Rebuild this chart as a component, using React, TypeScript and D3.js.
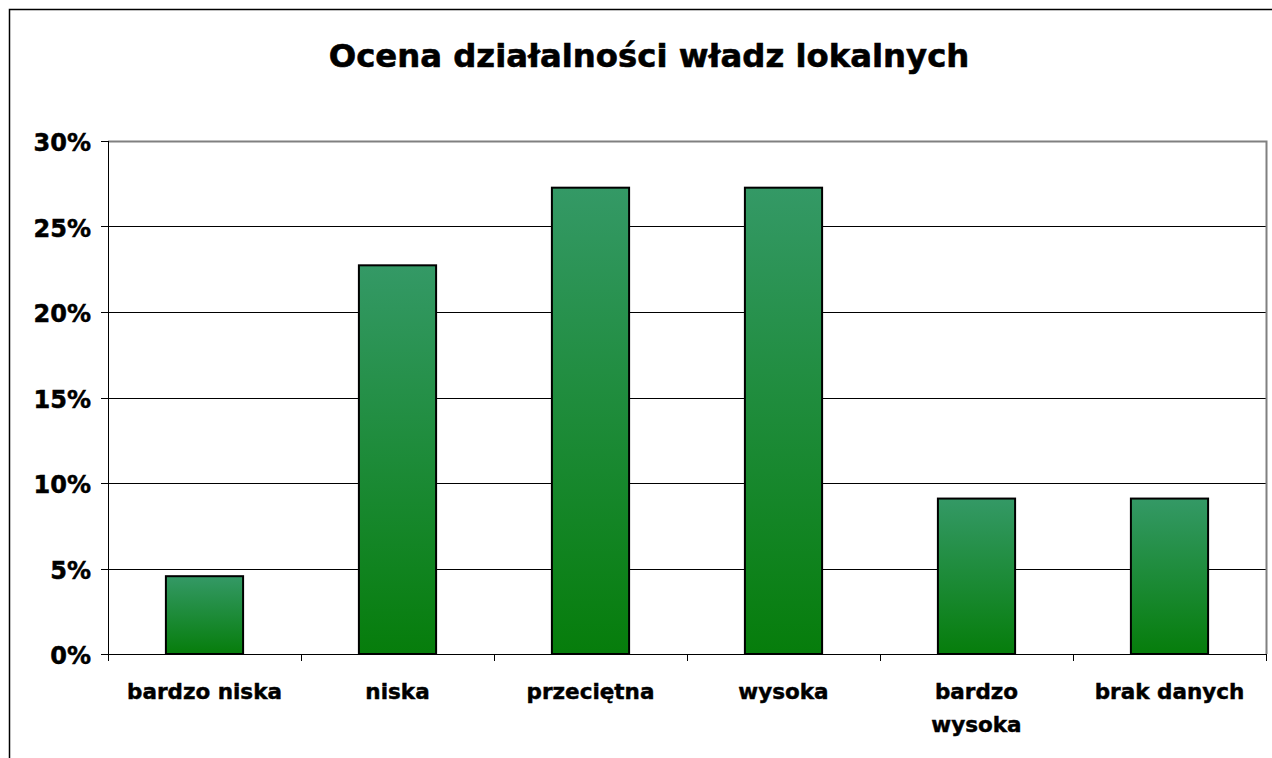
import React, { useEffect, useRef } from "react";
import * as d3 from "d3";

const categories: string[][] = [
  ["bardzo niska"],
  ["niska"],
  ["przeciętna"],
  ["wysoka"],
  ["bardzo", "wysoka"],
  ["brak danych"],
];
const values: number[] = [0.0455, 0.2273, 0.2727, 0.2727, 0.0909, 0.0909];
const yTicks: number[] = [0, 0.05, 0.1, 0.15, 0.2, 0.25, 0.3];
const title = "Ocena działalności władz lokalnych";

const W = 1272;
const H = 758;
const plot = { left: 108, top: 141, right: 1266, bottom: 654 };
const FONT = "Verdana, 'DejaVu Sans', sans-serif";

export default function App() {
  const ref = useRef<SVGSVGElement>(null);
  useEffect(() => {
    const svg = d3.select(ref.current!);
    svg.selectAll("*").remove();

    const defs = svg.append("defs");
    const grad = defs
      .append("linearGradient")
      .attr("id", "barGrad")
      .attr("x1", 0)
      .attr("y1", 0)
      .attr("x2", 0)
      .attr("y2", 1);
    grad.append("stop").attr("offset", "0%").attr("stop-color", "#349966");
    grad.append("stop").attr("offset", "100%").attr("stop-color", "#067d0b");

    svg.append("rect").attr("width", W).attr("height", H).attr("fill", "#fff");

    // outer chart border (extends past viewport)
    svg
      .append("rect")
      .attr("x", 9.5)
      .attr("y", 9.5)
      .attr("width", W + 20)
      .attr("height", H + 20)
      .attr("fill", "none")
      .attr("stroke", "#000")
      .attr("stroke-width", 1.5);

    const x = d3
      .scaleBand<number>()
      .domain(d3.range(categories.length))
      .range([plot.left, plot.right])
      .paddingInner(0.6)
      .paddingOuter(0.3);
    const xb = d3
      .scaleBand<number>()
      .domain(d3.range(categories.length))
      .range([plot.left, plot.right]);
    const y = d3.scaleLinear().domain([0, 0.3]).range([plot.bottom, plot.top]);

    // gridlines
    svg
      .append("g")
      .selectAll("line")
      .data(yTicks.filter((t) => t > 0 && t < 0.3))
      .join("line")
      .attr("x1", plot.left)
      .attr("x2", plot.right)
      .attr("y1", (d) => Math.round(y(d)) + 0.5)
      .attr("y2", (d) => Math.round(y(d)) + 0.5)
      .attr("stroke", "#000")
      .attr("stroke-width", 1);

    // plot area top/right border (gray)
    svg
      .append("path")
      .attr(
        "d",
        `M${plot.left},${plot.top + 0.5}H${plot.right + 0.5}V${plot.bottom}`
      )
      .attr("fill", "none")
      .attr("stroke", "#808080")
      .attr("stroke-width", 2);

    // bars
    svg
      .append("g")
      .selectAll("rect")
      .data(values)
      .join("rect")
      .attr("x", (_, i) => x(i)!)
      .attr("width", x.bandwidth())
      .attr("y", (d) => y(d))
      .attr("height", (d) => plot.bottom - y(d))
      .attr("fill", "url(#barGrad)")
      .attr("stroke", "#000")
      .attr("stroke-width", 2);

    // y axis
    const yAxis = svg.append("g");
    yAxis
      .append("line")
      .attr("x1", plot.left + 0.5)
      .attr("x2", plot.left + 0.5)
      .attr("y1", plot.top)
      .attr("y2", plot.bottom + 7)
      .attr("stroke", "#000");
    yAxis
      .selectAll("line.tick")
      .data(yTicks)
      .join("line")
      .attr("class", "tick")
      .attr("x1", plot.left - 7)
      .attr("x2", plot.left)
      .attr("y1", (d) => Math.round(y(d)) + 0.5)
      .attr("y2", (d) => Math.round(y(d)) + 0.5)
      .attr("stroke", "#000");
    yAxis
      .selectAll("text")
      .data(yTicks)
      .join("text")
      .attr("x", plot.left - 17)
      .attr("y", (d) => y(d) + 10)
      .attr("text-anchor", "end")
      .attr("font-family", FONT)
      .attr("font-weight", "bold")
      .attr("font-size", 24)
      .attr("stroke", "#000")
      .attr("stroke-width", 0.5)
      .attr("fill", "#000")
      .text((d) => d3.format(".0%")(d));

    // x axis
    const xAxis = svg.append("g");
    xAxis
      .append("line")
      .attr("x1", plot.left)
      .attr("x2", plot.right + 1)
      .attr("y1", plot.bottom + 0.5)
      .attr("y2", plot.bottom + 0.5)
      .attr("stroke", "#000");
    xAxis
      .selectAll("line.tick")
      .data(d3.range(categories.length + 1))
      .join("line")
      .attr("class", "tick")
      .attr("x1", (i) => Math.round(plot.left + i * xb.bandwidth()) + 0.5)
      .attr("x2", (i) => Math.round(plot.left + i * xb.bandwidth()) + 0.5)
      .attr("y1", plot.bottom)
      .attr("y2", plot.bottom + 7)
      .attr("stroke", "#000");
    const lbl = xAxis
      .selectAll("text")
      .data(categories)
      .join("text")
      .attr("text-anchor", "middle")
      .attr("font-family", FONT)
      .attr("font-weight", "bold")
      .attr("font-size", 21.5)
      .attr("stroke", "#000")
      .attr("stroke-width", 0.45)
      .attr("fill", "#000");
    lbl
      .selectAll("tspan")
      .data((d, i) => d.map((s) => ({ s, i, n: d.length })))
      .join("tspan")
      .attr("x", (d) => xb(d.i)! + xb.bandwidth() / 2)
      .attr("y", (d, j) => 699 + j * 33)
      .text((d) => d.s);

    svg
      .append("text")
      .attr("x", 649)
      .attr("y", 67)
      .attr("text-anchor", "middle")
      .attr("font-family", FONT)
      .attr("font-weight", "bold")
      .attr("font-size", 32.3)
      .attr("stroke", "#000")
      .attr("stroke-width", 0.6)
      .attr("fill", "#000")
      .text(title);
  }, []);

  return (
    <svg
      ref={ref}
      width={W}
      height={H}
      style={{ position: "absolute", left: 0, top: 0, display: "block" }}
    />
  );
}
